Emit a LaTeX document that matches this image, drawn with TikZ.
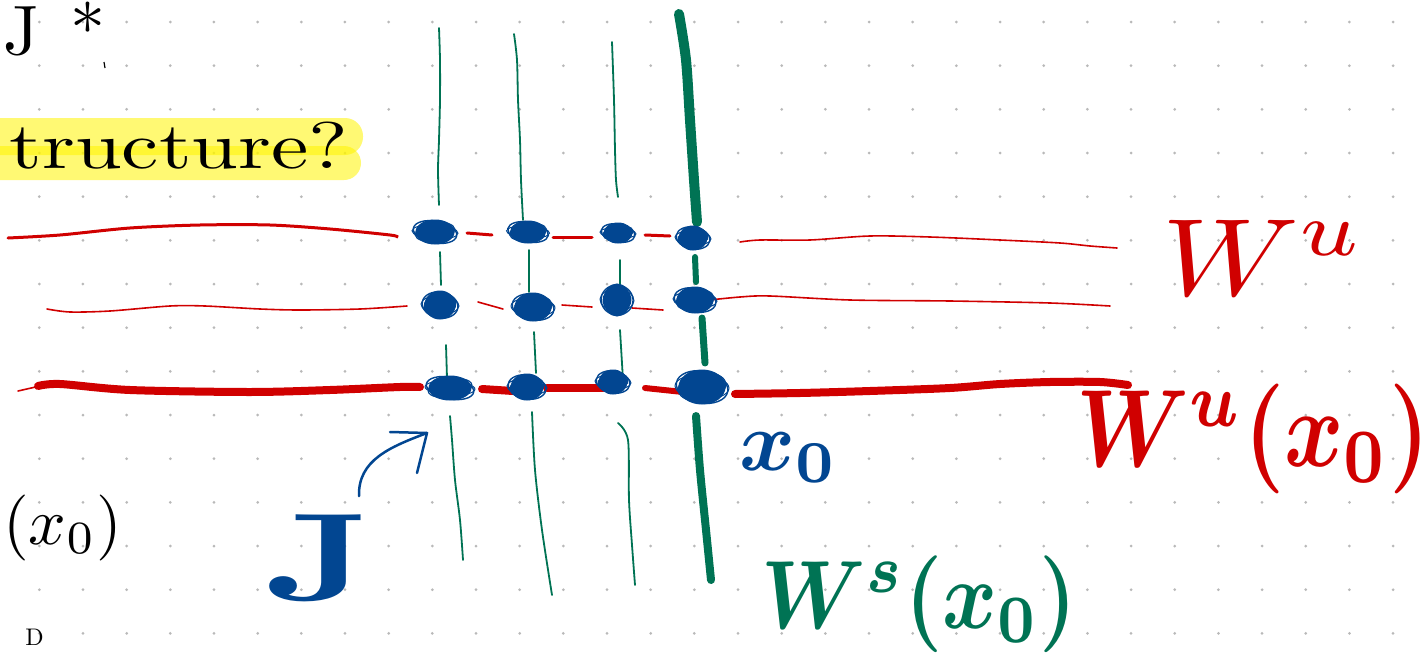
\documentclass[tikz,border=0pt]{standalone}
\usepackage{graphicx}
\usepackage{bm}
\usetikzlibrary{shapes.geometric}
\definecolor{pred}{RGB}{208,0,0}
\definecolor{pgreen}{RGB}{0,115,84}
\definecolor{pblue}{RGB}{2,70,145}
\definecolor{hlyellow}{RGB}{255,245,0}
\definecolor{dotgray}{RGB}{185,185,185}
\newcommand{\blob}[5]{%
  \node[blobdot, minimum width=#4pt, minimum height=#5pt] (#1) at (#2,#3) {};
  \draw[pblue, line width=1.4, rotate around={-10:(#1.center)}] (#1.center) ellipse ({#4/2+3} and {#5/2-1});
  \draw[pblue, line width=1.2, rotate around={9:(#1.center)}] (#1.center) ellipse ({#4/2+1} and {#5/2-3});
  \draw[pblue, line width=1.0, rotate around={-3:(#1.center)}] (#1.center) ellipse ({#4/2+4} and {#5/2-5});
}
\begin{document}
\begin{tikzpicture}[x=1pt,y=-1pt,
  blobdot/.style={ellipse, fill=pblue, draw=pblue, line width=1, inner sep=0pt},
  redthin/.style={draw=pred, line width=1.6, line cap=round},
  redmid/.style={draw=pred, line width=3, line cap=round},
  redthick/.style={draw=pred, line width=8, line cap=round},
  grthin/.style={draw=pgreen, line width=1.8, line cap=round},
  grthick/.style={draw=pgreen, line width=8, line cap=round},
  lbl/.style={inner sep=0pt, anchor=base west},
  hl/.style={fill=hlyellow, fill opacity=0.55}]
\useasboundingbox (0,0) rectangle (1427,653);
\fill[white] (0,0) rectangle (1427,653);
\begin{scope}
\clip (0,0) rectangle (1427,653);
% dot grid
\foreach \i in {0,...,31}{\foreach \j in {0,...,14}{\fill[dotgray] ({39.3+43.67*\i},{22+43.67*\j}) circle (1.5);}}
% highlight
\fill[hl, rounded corners=18] (-40,118) rectangle (363,155);
\fill[hl, rounded corners=17] (-40,146) rectangle (361,180);
\end{scope}
\node[lbl, xscale=8.4, yscale=6.6] (struct) at (8,168) {tructure?};
% top-left and left fragments
\node[lbl, scale=7] (jstar) at (2,54) {J\hspace{4.5pt}*};
\draw[black, line width=1.2] (104,62) -- (105,68);
\node[lbl, scale=6.6] (xzl) at (2,544) {$(x_0)$};
\node[lbl, scale=2.4] (dfrag) at (25,645) {D};
% red lines
\draw[redmid] plot[smooth] coordinates {(8,238) (60,235) (130,228) (200,225) (270,225) (330,229) (390,235) (397,237)};
\draw[redmid] (467,233) -- (492,235);
\draw[redmid] (553,237) -- (592,237);
\draw[redmid] (645,235) -- (670,236);
\draw[redthin] plot[smooth] coordinates {(740,242) (760,240) (810,240) (870,236) (930,237) (1000,240) (1060,243) (1090,246) (1117,248)};
\draw[redthin] plot[smooth] coordinates {(47,309) (70,312) (110,311) (170,306) (205,306) (260,309) (300,310) (360,309) (407,306)};
\draw[redthin] (478,302) -- (503,309);
\draw[redthin] (562,305) -- (592,307);
\draw[redthin] (632,308) -- (663,310);
\draw[redthin] plot[smooth] coordinates {(700,301) (740,297) (770,296) (850,300) (950,301) (1050,303) (1110,306)};
\draw[redthin] (18,391) -- (40,386);
\draw[redthick] plot[smooth] coordinates {(38,386) (60,384) (130,390) (250,392) (330,390) (400,387) (420,387)};
\draw[redthick] (482,389) -- (513,391);
\draw[redthick] (547,388) -- (603,388);
\draw[redthick, line width=6] (645,388) -- (683,392);
\draw[redthick] plot[smooth] coordinates {(735,394) (800,393) (870,391) (950,388) (1000,384) (1050,382) (1100,382) (1128,385)};
% green lines
\draw[grthin] plot[smooth] coordinates {(439,28) (440,60) (440,100) (439,140) (438,170) (439,205)};
\draw[grthin] (440,252) -- (441,285);
\draw[grthin] (446,345) -- (447,378);
\draw[grthin] plot[smooth] coordinates {(450,416) (452,440) (455,480) (460,520) (463,560)};
\draw[grthin] plot[smooth] coordinates {(514,34) (517,60) (518,100) (520,140) (521,180) (523,220)};
\draw[grthin] (529,250) -- (529,292);
\draw[grthin] (534,332) -- (536,373);
\draw[grthin] plot[smooth] coordinates {(532,412) (535,470) (542,530) (552,595)};
\draw[grthin] plot[smooth] coordinates {(612,42) (614,100) (615,150) (616,180) (618,197)};
\draw[grthin] (620,260) -- (620,290);
\draw[grthin] (620,330) -- (623,380);
\draw[grthin] plot[smooth] coordinates {(618,423) (628,440) (629,500) (632,545) (635,585)};
\draw[grthick, line width=10] plot[smooth] coordinates {(679,14) (686,60) (690,120) (694,180) (697,222)};
\draw[grthick, line width=6] (695,257) -- (696,282);
\draw[grthick, line width=7] (702,318) -- (705,363);
\draw[grthick] plot[smooth] coordinates {(696,416) (700,470) (706,530) (711,580)};
% blue dots
\blob{d11}{435}{232}{38}{24}
\blob{d12}{528}{232}{35}{22}
\blob{d13}{618}{233}{28}{20}
\blob{d14}{693}{238}{28}{24}
\blob{d21}{440}{305}{30}{28}
\blob{d22}{533}{307}{36}{28}
\blob{d23}{617}{300}{26}{32}
\blob{d24}{695}{300}{36}{26}
\blob{d31}{450}{388}{42}{24}
\blob{d32}{527}{387}{32}{26}
\blob{d33}{613}{382}{28}{24}
\blob{d34}{702}{387}{46}{34}
% J arrow
\coordinate (arrS) at (359,496);
\coordinate (arrT) at (427,433);
\coordinate (barbA) at (390,432);
\coordinate (barbB) at (417,473);
\draw[pblue, line width=2.5, line cap=round] (arrS) .. controls (358,460) and (390,447) .. (arrT);
\draw[pblue, line width=2.5, line cap=round, line join=round] (barbA) -- (arrT) -- (barbB);
% labels
\node[lbl, text=pblue, scale=12.5, xscale=1.45] (J) at (262,600) {\textbf{J}};
\node[lbl, text=pblue, scale=8.5] (xnought) at (738,470) {$\bm{x_0}$};
\node[lbl, text=pgreen, scale=9.7, xscale=0.86] (Ws) at (760,628) {$\bm{W^s(x_0)}$};
\node[lbl, text=pred, scale=11, xscale=0.82] (Wux) at (1075,466) {$\bm{W^u(x_0)}$};
\node[lbl, text=pred, scale=11, xscale=1.15] (Wu) at (1160,295) {$W^u$};
\end{tikzpicture}
\end{document}
